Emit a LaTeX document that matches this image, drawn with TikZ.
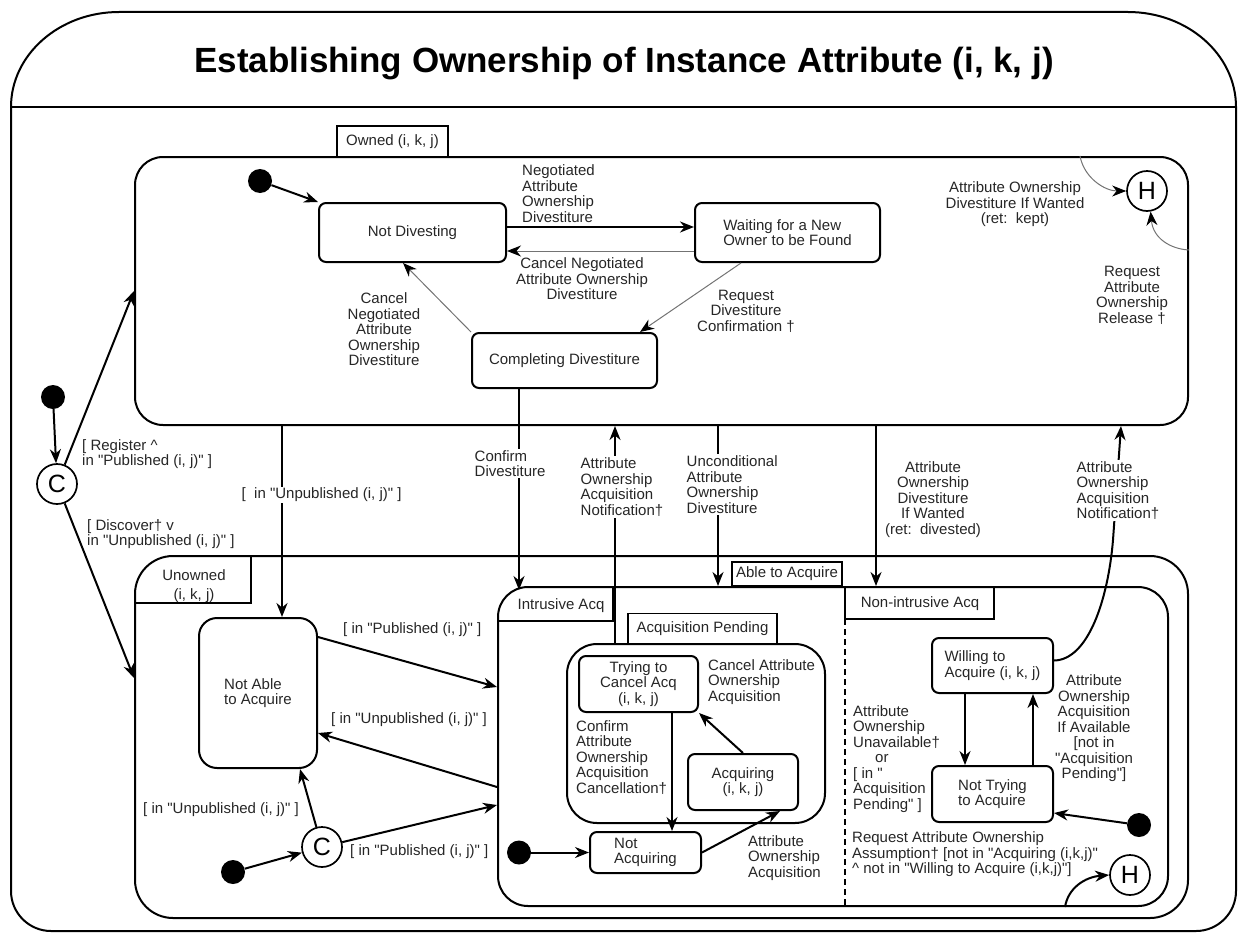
\documentclass[tikz,border=0pt]{standalone}
\usepackage{fontspec}
\setmainfont{Liberation Sans}
\usetikzlibrary{arrows.meta}
\newcommand{\qm}{\textquotedbl}
\begin{document}
\begin{tikzpicture}[x=1pt,y=-1pt,
  every node/.style={font=\fontsize{15}{15.5}\selectfont, text=black!85},
  border/.style={draw=black, line width=2pt},
  region/.style={border, rounded corners=#1, inner sep=0pt},
  statebox/.style={border, rounded corners=7pt, inner sep=0pt, align=center},
  tabbox/.style={draw=black, line width=1.7pt, inner sep=0pt},
  dot/.style={circle, fill=black, minimum size=24pt, inner sep=0pt},
  pseudo/.style={circle, draw=black, line width=1.7pt, minimum size=40pt, inner sep=0pt, font=\fontsize{25}{25}\selectfont, text=black},
  arr/.style={-{Stealth[length=14pt,width=11pt,inset=4.5pt]}, line width=2pt},
  thinarr/.style={-{Stealth[length=14pt,width=11pt,inset=4.5pt,color=black]}, line width=1pt, draw=black!55},
  lbl/.style={inner sep=0pt, align=left},
  lblc/.style={inner sep=0pt, align=center},
  cover/.style={fill=white, inner sep=1.5pt},
]
\useasboundingbox (0,0) rectangle (1241,934);

% outer frame with title band
\draw[border] (11,107) .. controls (11,54.6) and (59.4,12) .. (119,12) -- (1128,12)
  .. controls (1187.6,12) and (1236,54.6) .. (1236,107) -- (1236,891)
  .. controls (1236,913) and (1218,931) .. (1196,931) -- (51,931)
  .. controls (29,931) and (11,913) .. (11,891) -- cycle;
\draw[border] (11,107) -- (1236,107);
\node[font=\bfseries\fontsize{35}{35}\selectfont, text=black] (title) at (624,64)
  {Establishing Ownership of Instance Attribute (i, k, j)};

% ---- Owned (i, k, j) ----
\node[region=28pt, minimum width=1053pt, minimum height=268pt] (Owned) at (661.5,291) {};
\node[tabbox, fill=white, minimum width=111pt, minimum height=31pt] (OwnedTab) at (392.5,141.5) {Owned (i, k, j)};
\node[dot] (i1) at (260,181) {};
\node[statebox, minimum width=187pt, minimum height=59pt] (ND) at (412.5,232.5) {Not Divesting};
\node[statebox, minimum width=185pt, minimum height=59pt, align=left] (WO) at (787.5,232.5) {Waiting for a New\\Owner to be Found};
\node[statebox, minimum width=185pt, minimum height=55pt] (CD) at (564.5,360.5) {Completing Divestiture};
\node[pseudo] (H1) at (1147,191) {H};

% ---- initial choice ----
\node[dot] (i0) at (53,397) {};
\node[pseudo] (C1) at (57,484) {C};

% ---- Unowned (i, k, j) ----
\node[region=38pt, minimum width=1053pt, minimum height=362pt] (Unowned) at (661.5,737) {};
\draw[border] (135,603) -- (252,603);
\draw[border] (251,556) -- (251,604);
\node[lblc] (UnownedTab) at (194,586) {Unowned\\[3pt](i, k, j)};
\node[statebox, rounded corners=18pt, minimum width=118pt, minimum height=150pt, align=left] (NotAble) at (258,693) {Not Able\\to Acquire};
\node[dot] (i2) at (233,872) {};
\node[pseudo] (C2) at (322,847) {C};

% ---- Able to Acquire ----
\node[region=30pt, minimum width=670pt, minimum height=319pt] (Able) at (833,746.5) {};
\node[tabbox, minimum width=110pt, minimum height=24pt] (AbleTab) at (787,574) {Able to Acquire};
\draw[border] (498,621) -- (613,621) -- (613,587);
\node[lbl] (IntrTab) at (561,606) {Intrusive Acq};
\draw[border] (845,587) -- (845,619) -- (994,619) -- (994,587);
\draw[border, line width=1.4pt, dash pattern=on 6pt off 4pt] (845,619) -- (845,906);
\node[lbl] (NonIntrTab) at (920,604) {Non-intrusive Acq};

% intrusive acquisition
\node[region=30pt, minimum width=258pt, minimum height=179pt] (AP) at (696,733.5) {};
\node[tabbox, minimum width=149pt, minimum height=30pt] (APTab) at (702.5,628.5) {Acquisition Pending};
\node[statebox, minimum width=119pt, minimum height=56pt] (TC) at (638.5,684) {Trying to\\Cancel Acq\\(i, k, j)};
\node[statebox, minimum width=110pt, minimum height=56pt] (AQ) at (743,782) {Acquiring\\(i, k, j)};
\node[statebox, minimum width=111pt, minimum height=41pt, align=left] (NA) at (645.5,852.5) {Not\\Acquiring};
\node[dot] (i3) at (519,852.5) {};

% non-intrusive acquisition
\node[statebox, minimum width=121pt, minimum height=55pt, align=left] (WA) at (992.5,665.5) {Willing to\\Acquire (i, k, j)};
\node[statebox, minimum width=121pt, minimum height=56pt, align=left] (NT) at (992.5,794) {Not Trying\\to Acquire};
\node[dot] (i4) at (1139,825) {};
\node[pseudo] (H2) at (1130,875) {H};

% ---- transitions inside Owned ----
\draw[arr] (i1) -- (ND.north west);
\draw[arr] ([yshift=5.5pt]ND.east) -- ([yshift=5.5pt]WO.west);
\draw[thinarr] ([yshift=-18.5pt]WO.west) -- ([yshift=-18.5pt]ND.east);
\draw[thinarr] ([xshift=-46.5pt]WO.south) -- ([xshift=75.5pt]CD.north);
\draw[thinarr] (CD.north west) -- ([xshift=-9.5pt]ND.south);
\draw[thinarr] ([xshift=418.5pt]Owned.north) .. controls (1084,178) and (1105,191) .. (H1.west);
\draw[thinarr] ([yshift=41pt]Owned.east) .. controls (1170,249) and (1153,238) .. (H1.-80);

% ---- transitions from the initial choice ----
\draw[arr] (i0) -- (C1);
\draw[arr] (C1) -- (Owned.west);
\draw[arr] (C1) -- ([yshift=59pt]Unowned.west);

% ---- transitions between Owned and Unowned ----
\coordinate (ux) at ([xshift=24pt]NotAble.north);
\draw[arr] (ux |- Owned.south) -- (ux);
\coordinate (cdEnd) at (519,590);
\draw[arr] (CD.south -| cdEnd) -- (cdEnd);
\coordinate (notifA) at ([xshift=-81pt]AP.north);
\draw[arr] (notifA) -- (notifA |- Owned.south);
\coordinate (uncA) at ([xshift=-115pt]Able.north);
\draw[arr] (uncA |- Owned.south) -- (uncA);
\coordinate (divA) at ([xshift=43pt]Able.north);
\draw[arr] (divA |- Owned.south) -- (divA);
\coordinate (notifB) at ([xshift=459.5pt]Owned.south);
\draw[arr] ([yshift=5pt]WA.east) .. controls (1088,660) and (1108,600) .. (1113,540) -- (notifB);

% ---- transitions inside Unowned ----
\draw[arr] ([yshift=56pt]NotAble.east) -- ([yshift=59.5pt]Able.west);
\draw[arr] ([yshift=-40.5pt]Able.west) -- ([yshift=-40pt]NotAble.east);
\draw[arr] (i2) -- (C2);
\draw[arr] (C2) -- ([xshift=42pt]NotAble.south);
\draw[arr] (C2) -- ([yshift=-58.5pt]Able.west);

\draw[arr] (i3) -- (NA.west);
\draw[arr] (NA.east) -- ([xshift=37pt]AQ.south);
\draw[arr] (AQ.north) -- (TC.south east);
\coordinate (tcx) at ([xshift=33.5pt]TC.south);
\draw[arr] (tcx) -- (tcx |- NA.north);

\coordinate (wl) at ([xshift=-27.5pt]WA.south);
\draw[arr] (wl) -- (wl |- NT.north);
\coordinate (wr) at ([xshift=40.5pt]NT.north);
\draw[arr] (wr) -- (wr |- WA.south);
\draw[arr] (i4) -- ([yshift=-19pt]NT.east);
\draw[arr] ([xshift=232pt]Able.south) .. controls (1068,888) and (1085,877) .. (H2.west);

% ---- transition labels ----
\node[lbl, anchor=west] (lNeg) at (522,193.5) {Negotiated\\Attribute\\Ownership\\Divestiture};
\node[lblc] (lCan1) at (582,279) {Cancel Negotiated\\Attribute Ownership\\Divestiture};
\node[lblc] (lCan2) at (384,329.5) {Cancel\\Negotiated\\Attribute\\Ownership\\Divestiture};
\node[lblc] (lReq) at (746,311) {Request\\Divestiture\\Confirmation †};
\node[lblc] (lKept) at (1015,204.5) {Attribute Ownership\\Divestiture If Wanted\\(ret:\ \ kept)};
\node[lblc] (lRel) at (1132,295.5) {Request\\Attribute\\Ownership\\Release †};
\node[lbl, anchor=west] (lReg) at (82,454) {[ Register \textasciicircum\\in \qm{}Published (i, j)\qm{} ]};
\node[lbl, anchor=west] (lDisc) at (87,534) {[ Discover† v\\in \qm{}Unpublished (i, j)\qm{} ]};
\node[lbl, cover, anchor=west] (lUnp) at (240,495) {[\ \ in \qm{}Unpublished (i, j)\qm{} ]};
\node[lbl, cover, anchor=west] (lConf) at (473,463.5) {Confirm\\Divestiture};
\node[lbl, cover, anchor=west] (lNot1) at (579,487) {Attribute\\Ownership\\Acquisition\\Notification†};
\node[lbl, cover, anchor=west] (lUnc) at (685,484.5) {Unconditional\\Attribute\\Ownership\\Divestiture};
\node[lblc] (lDivW) at (933,499.5) {Attribute\\Ownership\\Divestiture\\If Wanted\\(ret:\ \ divested)};
\node[lbl, cover, anchor=west] (lNot2) at (1075,490.5) {Attribute\\Ownership\\Acquisition\\Notification†};
\node[lbl, anchor=west] (lPub1) at (343,630) {[ in \qm{}Published (i, j)\qm{} ]};
\node[lbl, anchor=west] (lUnp1) at (331,720) {[ in \qm{}Unpublished (i, j)\qm{} ]};
\node[lbl, anchor=west] (lUnp2) at (143,810) {[ in \qm{}Unpublished (i, j)\qm{} ]};
\node[lbl, anchor=west] (lPub2) at (350,852) {[ in \qm{}Published (i, j)\qm{} ]};
\node[lbl, anchor=west] (lCanAcq) at (708,682) {Cancel Attribute\\Ownership\\Acquisition};
\node[lbl, anchor=west] (lConfAcq) at (576,757.5) {Confirm\\Attribute\\Ownership\\Acquisition\\Cancellation†};
\node[lbl, anchor=west] (lAcq) at (748,858) {Attribute\\Ownership\\Acquisition};
\node[lbl, anchor=west] (lUnav) at (853,759) {Attribute\\Ownership\\Unavailable†\\\hspace*{22pt}or\\{}[ in \qm\\Acquisition\\Pending\qm{} ]};
\node[lblc] (lAvail) at (1094,728.5) {Attribute\\Ownership\\Acquisition\\If Available\\{}[not in\\\qm{}Acquisition\\Pending\qm{}]};
\node[lbl, anchor=west] (lAssume) at (852,854.5) {Request Attribute Ownership\\Assumption† [not in \qm{}Acquiring (i,k,j)\qm\\\textasciicircum{} not in \qm{}Willing to Acquire (i,k,j)\qm{}]};
\end{tikzpicture}
\end{document}
